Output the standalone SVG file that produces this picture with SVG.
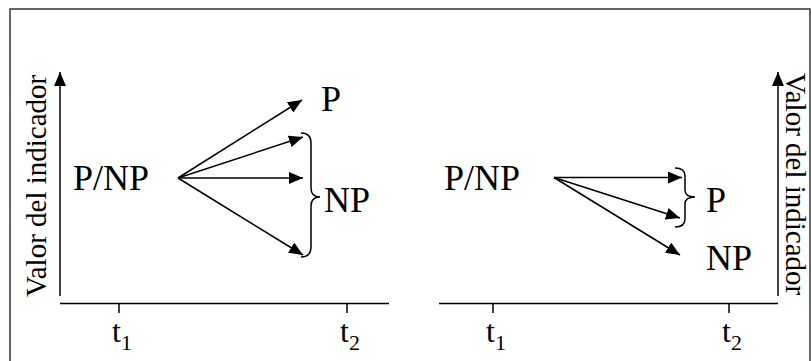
<svg xmlns="http://www.w3.org/2000/svg" width="811" height="361" viewBox="0 0 811 361">
<defs>
<marker id="ah" markerUnits="userSpaceOnUse" markerWidth="15" markerHeight="12" refX="14" refY="6" orient="auto">
<path d="M0,0 L14,6 L0,12 Z" fill="#000"/>
</marker>
</defs>
<style>
.ln{stroke:#000;stroke-width:1.5;fill:none}
.lbl{font-family:"Liberation Serif","Times New Roman",serif;fill:#000}
.big{font-size:36px}
.ax{font-size:29px}
.t{font-size:32px}
.sub{font-size:22px}
</style>
<rect x="10" y="9" width="800" height="362" fill="#fff" stroke="#333" stroke-width="1.5"/>
<g id="left-axes">
<line class="ln" x1="60" y1="296" x2="60" y2="72" marker-end="url(#ah)"/>
<line class="ln" x1="60" y1="303.5" x2="389" y2="303.5"/>
<line class="ln" x1="119" y1="303.5" x2="119" y2="313"/>
<line class="ln" x1="347" y1="303.5" x2="347" y2="313"/>
<text class="lbl ax" transform="translate(46,297) rotate(-90)">Valor del indicador</text>
<text class="lbl t" x="112" y="342">t<tspan class="sub" dy="8">1</tspan></text>
<text class="lbl t" x="340" y="342">t<tspan class="sub" dy="8">2</tspan></text>
</g>
<g id="left-pnp"><text class="lbl big" x="73" y="190">P/NP</text></g>
<g id="left-p"><text class="lbl big" x="321" y="111">P</text></g>
<g id="left-np"><text class="lbl big" x="324" y="212">NP</text></g>
<g id="left-brace"><path class="ln" d="M301,133 Q311,133 311,143 L311,188 Q311,197 320,197 Q311,197 311,206 L311,247 Q311,257 301,257"/></g>
<g id="right-axes">
<line class="ln" x1="778" y1="296" x2="778" y2="72" marker-end="url(#ah)"/>
<line class="ln" x1="439" y1="303.5" x2="778" y2="303.5"/>
<line class="ln" x1="493" y1="303.5" x2="493" y2="313"/>
<line class="ln" x1="729" y1="303.5" x2="729" y2="313"/>
<text class="lbl ax" transform="translate(786,73) rotate(90)">Valor del indicador</text>
<text class="lbl t" x="486" y="342">t<tspan class="sub" dy="8">1</tspan></text>
<text class="lbl t" x="722" y="342">t<tspan class="sub" dy="8">2</tspan></text>
</g>
<g id="right-pnp"><text class="lbl big" x="444" y="190">P/NP</text></g>
<g id="right-p"><text class="lbl big" x="706" y="212">P</text></g>
<g id="right-np"><text class="lbl big" x="706" y="270">NP</text></g>
<g id="right-brace"><path class="ln" d="M675,168 Q685,168 685,176 L685,190 Q685,197 695,197 Q685,197 685,204 L685,219 Q685,227 675,227"/></g>
<g id="connectors">
<line class="ln" x1="178" y1="178" x2="302" y2="100" marker-end="url(#ah)"/>
<line class="ln" x1="178" y1="178" x2="303" y2="137" marker-end="url(#ah)"/>
<line class="ln" x1="178" y1="178" x2="303" y2="178" marker-end="url(#ah)"/>
<line class="ln" x1="178" y1="178" x2="303" y2="255" marker-end="url(#ah)"/>
<line class="ln" x1="554" y1="177.5" x2="682" y2="177.5" marker-end="url(#ah)"/>
<line class="ln" x1="554" y1="177.5" x2="680" y2="218" marker-end="url(#ah)"/>
<line class="ln" x1="554" y1="177.5" x2="680" y2="255" marker-end="url(#ah)"/>
</g>
</svg>
